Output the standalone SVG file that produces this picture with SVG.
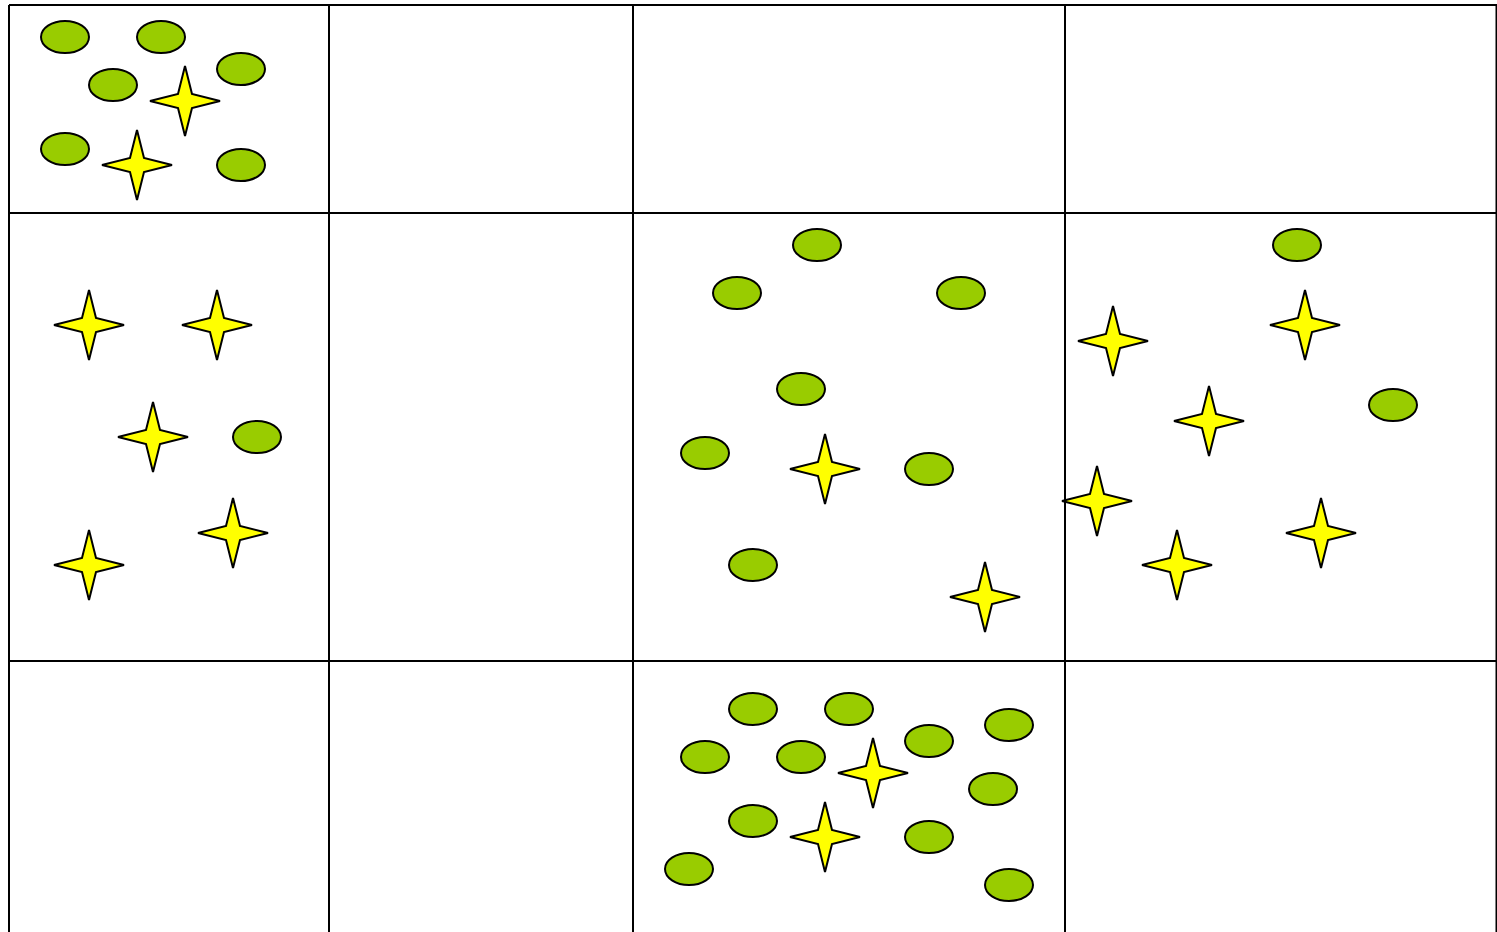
<svg xmlns="http://www.w3.org/2000/svg" width="1497" height="932" viewBox="0 0 1497 932">
<style>
.g{stroke:#000;stroke-width:2;fill:none}
.e{fill:#99CC00;stroke:#000;stroke-width:2}
.s{fill:#FFFF00;stroke:#000;stroke-width:2;stroke-linejoin:miter}
</style>
<defs>
<path id="star" d="M0,-35 L7,-7 L35,0 L7,7 L0,35 L-7,7 L-35,0 L-7,-7 Z"/>
<ellipse id="ell" rx="24" ry="16"/>
</defs>
<rect width="1497" height="932" fill="#fff"/>
<g id="grid" class="g">
<line x1="9" y1="5" x2="1497" y2="5"/>
<line x1="9" y1="213" x2="1497" y2="213"/>
<line x1="9" y1="661" x2="1497" y2="661"/>
<line x1="9" y1="5" x2="9" y2="932"/>
<line x1="329" y1="5" x2="329" y2="932"/>
<line x1="633" y1="5" x2="633" y2="932"/>
<line x1="1065" y1="5" x2="1065" y2="932"/>
<line x1="1496.5" y1="5" x2="1496.5" y2="932"/>
</g>
<g id="cell-a">
<use href="#ell" class="e" x="65" y="37"/>
<use href="#ell" class="e" x="161" y="37"/>
<use href="#ell" class="e" x="113" y="85"/>
<use href="#ell" class="e" x="241" y="69"/>
<use href="#ell" class="e" x="65" y="149"/>
<use href="#ell" class="e" x="241" y="165"/>
<use href="#star" class="s" x="185" y="101"/>
<use href="#star" class="s" x="137" y="165"/>
</g>
<g id="cell-b">
<use href="#star" class="s" x="89" y="325"/>
<use href="#star" class="s" x="217" y="325"/>
<use href="#star" class="s" x="153" y="437"/>
<use href="#star" class="s" x="233" y="533"/>
<use href="#star" class="s" x="89" y="565"/>
<use href="#ell" class="e" x="257" y="437"/>
</g>
<g id="cell-c">
<use href="#ell" class="e" x="817" y="245"/>
<use href="#ell" class="e" x="737" y="293"/>
<use href="#ell" class="e" x="961" y="293"/>
<use href="#ell" class="e" x="801" y="389"/>
<use href="#ell" class="e" x="705" y="453"/>
<use href="#ell" class="e" x="929" y="469"/>
<use href="#ell" class="e" x="753" y="565"/>
<use href="#star" class="s" x="825" y="469"/>
<use href="#star" class="s" x="985" y="597"/>
</g>
<g id="cell-d">
<use href="#ell" class="e" x="1297" y="245"/>
<use href="#ell" class="e" x="1393" y="405"/>
<use href="#star" class="s" x="1113" y="341"/>
<use href="#star" class="s" x="1305" y="325"/>
<use href="#star" class="s" x="1209" y="421"/>
<use href="#star" class="s" x="1097" y="501"/>
<use href="#star" class="s" x="1177" y="565"/>
<use href="#star" class="s" x="1321" y="533"/>
</g>
<g id="cell-e">
<use href="#ell" class="e" x="753" y="709"/>
<use href="#ell" class="e" x="849" y="709"/>
<use href="#ell" class="e" x="1009" y="725"/>
<use href="#ell" class="e" x="705" y="757"/>
<use href="#ell" class="e" x="801" y="757"/>
<use href="#ell" class="e" x="929" y="741"/>
<use href="#ell" class="e" x="993" y="789"/>
<use href="#ell" class="e" x="753" y="821"/>
<use href="#ell" class="e" x="929" y="837"/>
<use href="#ell" class="e" x="689" y="869"/>
<use href="#ell" class="e" x="1009" y="885"/>
<use href="#star" class="s" x="873" y="773"/>
<use href="#star" class="s" x="825" y="837"/>
</g>
</svg>
